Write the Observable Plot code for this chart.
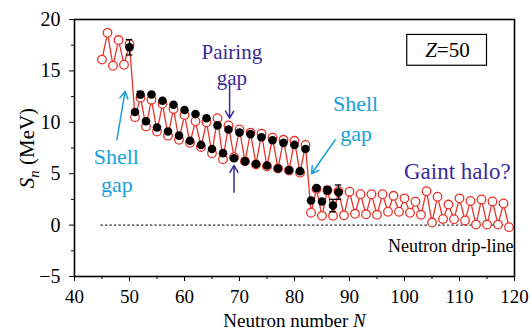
<!DOCTYPE html>
<html><head><meta charset="utf-8">
<script src="https://cdn.jsdelivr.net/npm/d3@7"></script>
<script src="https://cdn.jsdelivr.net/npm/@observablehq/plot@0.6"></script>
<style>body{margin:0;background:#fff}</style>
</head><body><div id="chart"></div>
<script>
// Theory (red open circles), N = 45..119
const thN = [45,46,47,48,49,50,51,52,53,54,55,56,57,58,59,60,61,62,63,64,65,66,67,68,69,70,71,72,73,74,75,76,77,78,79,80,81,82,83,84,85,86,87,88,89,90,91,92,93,94,95,96,97,98,99,100,101,102,103,104,105,106,107,108,109,110,111,112,113,114,115,116,117,118,119];
const thS = [16.1,18.7,15.5,18.0,15.6,17.6,10.5,12.4,9.6,12.2,9.1,11.8,8.7,11.3,8.3,10.7,8.0,10.1,7.6,10.0,7.0,10.4,6.4,9.7,6.6,9.3,6.2,9.0,5.9,8.9,5.7,8.5,5.5,8.3,5.3,8.2,5.1,7.8,1.2,3.5,0.9,3.4,0.9,3.3,0.95,3.25,1.1,3.0,1.05,3.0,1.0,3.0,1.3,2.85,1.3,2.6,1.2,2.27,1.0,3.3,0.25,2.76,0.6,2.0,0.57,2.6,0.45,2.35,0.05,2.5,0.05,2.3,0.05,2.1,-0.2];
// Experiment (black filled dots), N = 50..88
const exN = [50,51,52,53,54,55,56,57,58,59,60,61,62,63,64,65,66,67,68,69,70,71,72,73,74,75,76,77,78,79,80,81,82,83,84,85,86,87,88];
const exS = [17.3,11.0,12.7,10.1,12.7,9.5,12.1,9.1,11.7,8.7,11.2,8.2,10.8,7.8,10.4,7.4,9.7,7.0,9.3,6.5,9.0,6.2,8.85,5.95,8.55,5.8,8.25,5.5,8.0,5.35,7.8,5.25,7.4,2.4,3.6,2.3,3.4,1.9,3.2];
const exErr = [0.75,0,0.3,0,0,0,0,0,0,0,0,0,0,0,0,0,0,0,0,0,0,0,0,0,0,0,0,0,0,0,0,0,0,0,0,0,0.35,0.6,0.7];

const xTicks = [40,50,60,70,80,90,100,110,120];
const xMinor = [45,55,65,75,85,95,105,115];
const yTicks = [-5,0,5,10,15,20];
const yMinor = [-2.5,2.5,7.5,12.5,17.5];

// annotations
const dripLine = [{x1:44.8, x2:119.6, y:0}];
const arrowsCyan = [
  {x1:47.7, y1:8.3, x2:49.2, y2:13.0},
  {x1:87.4, y1:8.3, x2:83.1, y2:5.0}
];
const arrowsBlue = [
  {x1:68.2, y1:13.8, x2:68.2, y2:10.4},
  {x1:69.0, y1:3.2, x2:69.0, y2:5.8}
];
const labelsCyan = [
  {x:47.6, y:6.6, t:"Shell"}, {x:47.7, y:3.9, t:"gap"},
  {x:91.1, y:11.8, t:"Shell"}, {x:91.2, y:8.9, t:"gap"}
];
const labelsBlue = [
  {x:68.6, y:16.85, t:"Pairing"}, {x:68.6, y:14.3, t:"gap"}
];
const labelsHalo = [{x:109.6, y:5.2, t:"Gaint halo?"}];
const labelsBlack = [{x:108.4, y:-2.1, t:"Neutron drip-line"}];
const zBox = [{x1:100.5, x2:115.0, y1:15.5, y2:18.5}];
const zText = [{x:107.8, y:17.0, t:"Z=50"}];

const theory = thN.map((n,i)=>({N:n, S:thS[i]}));
const expt = exN.map((n,i)=>({N:n, S:exS[i], e:exErr[i]}));
const errs = expt.filter(d=>d.e>0);

const red = "#e8332b", cyan = "#1a9fd9", blue = "#3b2a96";

const plot = Plot.plot({
  width: 532, height: 329,
  marginLeft: 74, marginRight: 18, marginTop: 19, marginBottom: 53,
  style: {fontFamily: "'Liberation Serif', 'Times New Roman', serif", fontSize: "20px", background:"#fff", color:"#000"},
  x: {domain:[40,120]},
  y: {domain:[-5,20]},
  marks: [
    Plot.axisX({ticks:xTicks, tickSize:5, tickPadding:8, tickFormat:d=>String(d), fontSize:19, label:null}),
    Plot.axisX({ticks:xMinor, tickSize:3, tickFormat:()=>"", label:null}),
    Plot.axisY({ticks:yTicks, tickSize:5, tickPadding:9, tickFormat:d=>d<0?"\u2212"+Math.abs(d):String(d), fontSize:20, label:"Sn (MeV)", labelAnchor:"center", labelOffset:55, labelArrow:"none"}),
    Plot.axisY({ticks:yMinor, tickSize:3, tickFormat:()=>"", label:null}),
    Plot.axisX({ticks:[], tickSize:0, label:"Neutron number N", labelAnchor:"center", labelOffset:50, labelArrow:"none", fontSize:19}),
    Plot.ruleY(dripLine, {x1:"x1", x2:"x2", y:"y", stroke:"#000", strokeWidth:1, strokeDasharray:"2.5,2"}),
    Plot.line(theory, {x:"N", y:"S", stroke:red, strokeWidth:1.3}),
    Plot.dot(theory, {x:"N", y:"S", r:4.3, stroke:red, strokeWidth:1.3, fill:"white"}),
    Plot.ruleX(errs, {x:"N", y1:d=>d.S-d.e, y2:d=>d.S+d.e, stroke:"#000", strokeWidth:1.3}),
    Plot.ruleY(errs, {y:d=>d.S+d.e, x1:d=>d.N-0.6, x2:d=>d.N+0.6, stroke:"#000", strokeWidth:1.3}),
    Plot.ruleY(errs, {y:d=>d.S-d.e, x1:d=>d.N-0.6, x2:d=>d.N+0.6, stroke:"#000", strokeWidth:1.3}),
    Plot.dot(expt, {x:"N", y:"S", r:4.3, fill:"#000", stroke:"none"}),
    Plot.arrow(arrowsCyan, {x1:"x1", y1:"y1", x2:"x2", y2:"y2", stroke:cyan, strokeWidth:1.5, headLength:8}),
    Plot.arrow(arrowsBlue, {x1:"x1", y1:"y1", x2:"x2", y2:"y2", stroke:blue, strokeWidth:1.5, headLength:8}),
    Plot.text(labelsCyan, {x:"x", y:"y", text:"t", fill:cyan, fontSize:22}),
    Plot.text(labelsBlue, {x:"x", y:"y", text:"t", fill:blue, fontSize:21}),
    Plot.text(labelsHalo, {x:"x", y:"y", text:"t", fill:blue, fontSize:23}),
    Plot.text(labelsBlack, {x:"x", y:"y", text:"t", fill:"#000", fontSize:18}),
    Plot.rect(zBox, {x1:"x1", x2:"x2", y1:"y1", y2:"y2", fill:"none", stroke:"#000", strokeWidth:1.2}),
    Plot.text(zText, {x:"x", y:"y", text:"t", fill:"#000", fontSize:21}),
    Plot.frame({stroke:"#000", strokeWidth:1.6})
  ]
});
document.getElementById("chart").appendChild(plot);

// rich text fix-ups
const svg = d3.select(plot);
svg.selectAll("text").each(function(){
  const t = d3.select(this);
  const s = this.textContent;
  if (s === "Sn (MeV)") {
    t.attr("font-size", "21px");
    t.text(null);
    t.append("tspan").attr("font-style","italic").text("S");
    t.append("tspan").attr("font-style","italic").attr("font-size","0.7em").attr("dy","0.3em").text("n");
    t.append("tspan").attr("dy","-0.21em").text(" (MeV)");
  } else if (s === "Neutron number N") {
    t.text(null);
    t.append("tspan").text("Neutron number ");
    t.append("tspan").attr("font-style","italic").text("N");
  } else if (s === "Z=50") {
    t.text(null);
    t.append("tspan").attr("font-style","italic").text("Z");
    t.append("tspan").text("=50");
  }
});
</script>
</body></html>
